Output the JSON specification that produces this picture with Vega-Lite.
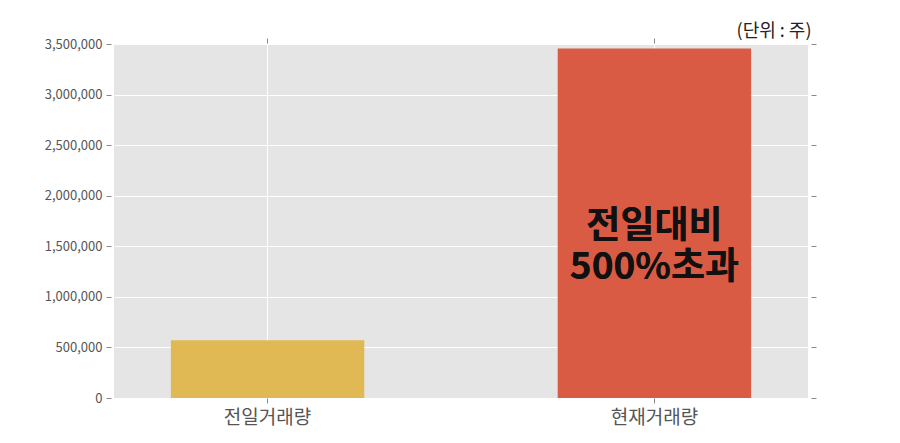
{
  "$schema": "https://vega.github.io/schema/vega-lite/v6.json",
  "width": 694,
  "height": 354,
  "autosize": "none",
  "padding": {"left": 114, "top": 44, "right": 92, "bottom": 45},
  "background": "white",
  "config": {
    "view": {"fill": "#E5E5E5", "stroke": null},
    "font": "Noto Sans CJK KR"
  },
  "title": {
    "text": "(단위 : 주)",
    "anchor": "end",
    "orient": "top",
    "fontSize": 18,
    "fontWeight": "normal",
    "color": "#222222",
    "offset": -3,
    "dx": -5,
    "letterSpacing": 1.5
  },
  "data": {
    "values": [
      {"category": "전일거래량", "volume": 570000},
      {"category": "현재거래량", "volume": 3455000}
    ]
  },
  "layer": [
    {
      "mark": {"type": "bar"},
      "encoding": {
        "x": {
          "field": "category",
          "type": "nominal",
          "sort": null,
          "scale": {"paddingInner": 0.5, "paddingOuter": 0.147},
          "axis": {
            "title": null,
            "orient": "bottom",
            "labelAngle": 0,
            "labelFontSize": 19,
            "labelColor": "#555555",
            "labelPadding": 5,
            "domain": false,
            "ticks": true,
            "tickSize": 5,
            "tickColor": "#888888",
            "grid": true,
            "gridColor": "#FFFFFF",
            "gridWidth": 1,
            "bandPosition": 0.5
          }
        },
        "y": {
          "field": "volume",
          "type": "quantitative",
          "scale": {"domain": [0, 3500000], "nice": false},
          "axis": {
            "title": null,
            "orient": "left",
            "values": [0, 500000, 1000000, 1500000, 2000000, 2500000, 3000000, 3500000],
            "format": ",d",
            "labelFontSize": 13,
            "labelColor": "#555555",
            "labelPadding": 4,
            "domain": false,
            "tickSize": 5,
            "offset": 3,
            "tickColor": "#888888",
            "grid": true,
            "gridColor": "#FFFFFF",
            "gridWidth": 1
          }
        },
        "color": {
          "field": "category",
          "type": "nominal",
          "scale": {"domain": ["전일거래량", "현재거래량"], "range": ["#E0B955", "#D95B43"]},
          "legend": null
        }
      }
    },
    {
      "mark": {
        "type": "text",
        "fontSize": 37,
        "fontWeight": "bold",
        "color": "#111111",
        "align": "center",
        "baseline": "middle"
      },
      "encoding": {
        "x": {
          "datum": "현재거래량",
          "type": "nominal",
          "axis": {
            "orient": "top",
            "title": null,
            "labels": false,
            "domain": false,
            "grid": false,
            "ticks": true,
            "tickSize": 5,
            "tickColor": "#888888",
            "bandPosition": 0.5,
            "offset": 1
          }
        },
        "y": {
          "datum": 1690000,
          "type": "quantitative",
          "axis": {
            "orient": "right",
            "title": null,
            "labels": false,
            "domain": false,
            "grid": false,
            "values": [0, 500000, 1000000, 1500000, 2000000, 2500000, 3000000, 3500000],
            "tickSize": 5,
            "offset": 3,
            "tickColor": "#888888"
          }
        },
        "text": {"value": "전일대비"}
      }
    },
    {
      "mark": {
        "type": "text",
        "fontSize": 37,
        "fontWeight": "bold",
        "color": "#111111",
        "align": "center",
        "baseline": "middle"
      },
      "encoding": {
        "x": {"datum": "현재거래량", "type": "nominal", "axis": null},
        "y": {"datum": 1290000, "type": "quantitative", "axis": null},
        "text": {"value": "500%초과"}
      }
    }
  ],
  "resolve": {"axis": {"x": "independent", "y": "independent"}}
}
